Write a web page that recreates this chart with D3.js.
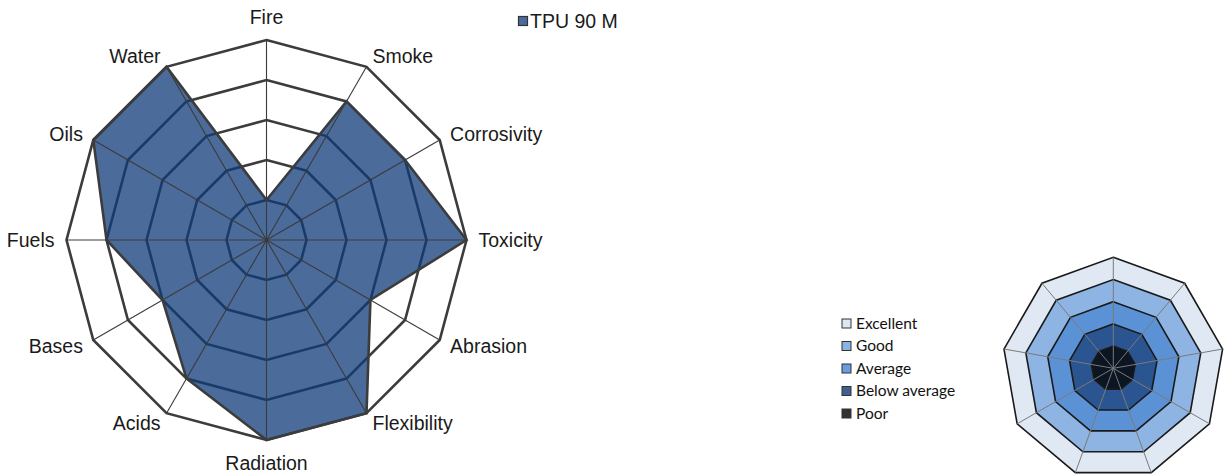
<!DOCTYPE html>
<html>
<head>
<meta charset="utf-8">
<script src="https://cdn.jsdelivr.net/npm/d3@7"></script>
<style>
  html, body { margin: 0; padding: 0; background: #fff; }
  svg { display: block; }
</style>
</head>
<body>
<svg id="chart" width="1229" height="475"></svg>
<script>
// ---- data ----
const categories = ["Fire", "Smoke", "Corrosivity", "Toxicity", "Abrasion", "Flexibility",
                    "Radiation", "Acids", "Bases", "Fuels", "Oils", "Water"];
const tpu90m = [1, 4, 4, 5, 3, 5, 5, 4, 3, 4, 5, 5];
const seriesName = "TPU 90 M";
const ringLevels = [1, 2, 3, 4, 5];
const ratingLabels = ["Excellent", "Good", "Average", "Below average", "Poor"];
const ratingSpokes = 9;

// ---- styles ----
const ratingFill = ["#dfe8f3", "#8db4e2", "#5b92d6", "#2b5590", "#0c1522"];
const ratingLegendFill = ["#dde7f3", "#8db3e2", "#6b9ddf", "#3e6191", "#333333"];

const svg = d3.select("#chart");

// ---- main radar ----
const cx = 266.5, cy = 240, R = 200;
const r = d3.scaleLinear().domain([0, 5]).range([0, R]);
const angle = d3.scaleLinear().domain([0, categories.length]).range([0, 2 * Math.PI]);
const pt = (i, v) => [cx + r(v) * Math.sin(angle(i)), cy - r(v) * Math.cos(angle(i))];
const closed = d3.line().curve(d3.curveLinearClosed);

const g = svg.append("g");

// rings
g.selectAll("path.ring").data(ringLevels).join("path")
  .attr("class", "ring")
  .attr("d", lv => closed(categories.map((c, i) => pt(i, lv))))
  .attr("fill", "none")
  .attr("stroke", "#3c3c3c")
  .attr("stroke-width", 2.6)
  .attr("stroke-linejoin", "miter");

// series area
g.append("path")
  .attr("d", closed(tpu90m.map((v, i) => pt(i, v))))
  .attr("fill", "rgb(15,59,122)")
  .attr("fill-opacity", 0.75)
  .attr("stroke", "none");

// spokes
g.selectAll("line.spoke").data(categories).join("line")
  .attr("class", "spoke")
  .attr("x1", cx).attr("y1", cy)
  .attr("x2", (c, i) => pt(i, 5)[0])
  .attr("y2", (c, i) => pt(i, 5)[1])
  .attr("stroke", "#3a3a3a")
  .attr("stroke-width", 1.1);

// series outline
g.append("path")
  .attr("d", closed(tpu90m.map((v, i) => pt(i, v))))
  .attr("fill", "none")
  .attr("stroke", "#3c3c3c")
  .attr("stroke-width", 2.6)
  .attr("stroke-linejoin", "miter");

// category labels
g.selectAll("text.cat").data(categories).join("text")
  .attr("class", "cat")
  .each(function (c, i) {
    const a = angle(i);
    const s = Math.sin(a), co = Math.cos(a);
    const mid = Math.abs(s) < 0.1;
    const off = mid ? R + 23 : R + 12;
    const x = cx + off * s, y = cy - off * co;
    d3.select(this)
      .attr("x", x).attr("y", y)
      .attr("dy", "0.35em")
      .attr("text-anchor", mid ? "middle" : (s > 0 ? "start" : "end"));
  })
  .attr("font-family", "Liberation Sans, Arial, sans-serif")
  .attr("font-size", 19.5)
  .attr("fill", "#1a1a1a")
  .text(c => c);

// series legend
svg.append("rect")
  .attr("x", 518.5).attr("y", 16.5).attr("width", 9).attr("height", 9)
  .attr("fill", "#4a6b9b").attr("stroke", "#333").attr("stroke-width", 1.2);
svg.append("text")
  .attr("x", 530).attr("y", 21).attr("dy", "0.35em")
  .attr("font-family", "Liberation Sans, Arial, sans-serif")
  .attr("font-size", 19.5)
  .attr("fill", "#1a1a1a")
  .text(seriesName);

// ---- rating key (nonagon) ----
const kx = 1113.3, ky = 368.3, KR = 111;
const kr = d3.scaleLinear().domain([0, ratingLabels.length]).range([0, KR]);
const ka = d3.scaleLinear().domain([0, ratingSpokes]).range([0, 2 * Math.PI]);
const kpt = (i, v) => [kx + kr(v) * Math.sin(ka(i)), ky - kr(v) * Math.cos(ka(i))];
const kIdx = d3.range(ratingSpokes);
const kg = svg.append("g");

kg.selectAll("path.kring").data(ratingLabels).join("path")
  .attr("class", "kring")
  .attr("d", (d, j) => closed(kIdx.map(i => kpt(i, ratingLabels.length - j))))
  .attr("fill", (d, j) => ratingFill[j])
  .attr("stroke", "#1a1a1a")
  .attr("stroke-width", 1.6)
  .attr("stroke-linejoin", "miter");

kg.selectAll("line.kspoke").data(kIdx).join("line")
  .attr("class", "kspoke")
  .attr("x1", kx).attr("y1", ky)
  .attr("x2", i => kpt(i, ratingLabels.length)[0])
  .attr("y2", i => kpt(i, ratingLabels.length)[1])
  .attr("stroke", "#7a7a7a")
  .attr("stroke-width", 1);

// rating legend
const lg = svg.append("g");
const ly = d3.scalePoint().domain(ratingLabels).range([323.5, 413.5]);
lg.selectAll("rect").data(ratingLabels).join("rect")
  .attr("x", 842).attr("y", d => ly(d) - 4.5)
  .attr("width", 9).attr("height", 9)
  .attr("fill", (d, j) => ratingLegendFill[j])
  .attr("stroke", "#333").attr("stroke-width", 1);
lg.selectAll("text").data(ratingLabels).join("text")
  .attr("x", 856).attr("y", d => ly(d)).attr("dy", "0.35em")
  .attr("font-family", "Lato, 'Open Sans', sans-serif")
  .attr("font-size", 15.5)
  .attr("fill", "#111")
  .text(d => d);
</script>
</body>
</html>
